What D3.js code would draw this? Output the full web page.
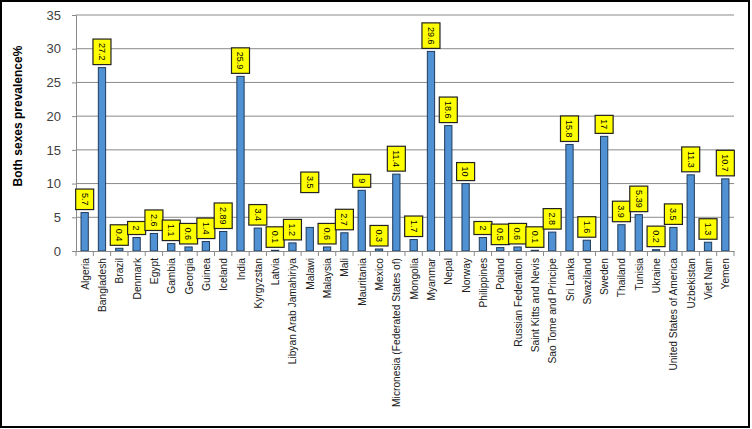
<!DOCTYPE html>
<html><head><meta charset="utf-8">
<script src="https://cdn.jsdelivr.net/npm/d3@7"></script>
<style>body{margin:0;background:#fff}svg{display:block}</style>
</head><body><svg id="c" width="752" height="429"></svg>
<script>
const categories = ["Algeria","Bangladesh","Brazil","Denmark","Egypt","Gambia","Georgia","Guinea","Iceland","India","Kyrgyzstan","Latvia","Libyan Arab Jamahiriya","Malawi","Malaysia","Mali","Mauritania","Mexico","Micronesia (Federated States of)","Mongolia","Myanmar","Nepal","Norway","Philippines","Poland","Russian Federation","Saint Kitts and Nevis","Sao Tome and Principe","Sri Lanka","Swaziland","Sweden","Thailand","Tunisia","Ukraine","United States of America","Uzbekistan","Viet Nam","Yemen"];
const values = [5.7,27.2,0.4,2,2.6,1.1,0.6,1.4,2.89,25.9,3.4,0.1,1.2,3.5,0.6,2.7,9,0.3,11.4,1.7,29.6,18.6,10,2,0.5,0.6,0.1,2.8,15.8,1.6,17,3.9,5.39,0.2,3.5,11.3,1.3,10.7];
const valueLabels = ["5.7","27.2","0.4","2","2.6","1.1","0.6","1.4","2.89","25.9","3.4","0.1","1.2","3.5","0.6","2.7","9","0.3","11.4","1.7","29.6","18.6","10","2","0.5","0.6","0.1","2.8","15.8","1.6","17","3.9","5.39","0.2","3.5","11.3","1.3","10.7"];
const yTicks = [0,5,10,15,20,25,30,35];
const yTitle = "Both sexes prevalence%";

const svg = d3.select("#c");
const L = 76, R = 734, T = 15, B = 251;
const x = d3.scaleBand().domain(categories).range([L, R]).paddingInner(0.58).paddingOuter(0.29);
const y = d3.scaleLinear().domain([0, 35]).range([B, T]);

// border
svg.append("rect").attr("x",1).attr("y",1).attr("width",748).attr("height",426)
  .attr("fill","none").attr("stroke","#000").attr("stroke-width",2);

// gridlines
svg.append("g").selectAll("line").data(yTicks.filter(d=>d>0)).join("line")
  .attr("x1",L).attr("x2",R).attr("y1",d=>y(d)).attr("y2",d=>y(d))
  .attr("stroke","#8a8a8a").attr("stroke-width",1);

// y axis
const ya = svg.append("g").attr("transform",`translate(${L},0)`)
  .call(d3.axisLeft(y).tickValues(yTicks).tickSize(4).tickPadding(11).tickFormat(d3.format("d")));
ya.select(".domain").attr("stroke","#8a8a8a");
ya.selectAll(".tick line").attr("stroke","#8a8a8a");
ya.selectAll("text").attr("font-family","Liberation Sans, Arial, sans-serif").attr("font-size",13).attr("fill","#404040");

// bars
svg.append("g").selectAll("rect").data(values).join("rect")
  .attr("x",(d,i)=>x(categories[i])).attr("width",x.bandwidth())
  .attr("y",d=>y(d)).attr("height",d=>B-y(d))
  .attr("fill","#4f91d3").attr("stroke","#1f3b5a").attr("stroke-width",1);

// x axis
const xa = svg.append("g").attr("transform",`translate(0,${B})`)
  .call(d3.axisBottom(x).tickSize(0).tickPadding(0));
xa.select(".domain").attr("stroke","#8a8a8a");
xa.selectAll(".tick line").remove();
// tick marks between categories
const bounds = d3.range(categories.length+1).map(i => L + i*(R-L)/categories.length);
svg.append("g").selectAll("line").data(bounds).join("line")
  .attr("x1",d=>d).attr("x2",d=>d).attr("y1",B).attr("y2",B+5).attr("stroke","#8a8a8a");
xa.selectAll(".tick text")
  .attr("font-family","Liberation Sans, Arial, sans-serif").attr("font-size",11.5).attr("fill","#202020")
  .attr("text-anchor","end").attr("dy","0.35em")
  .attr("transform","translate(0,7) rotate(-90) scale(0.89,1)").attr("x",0).attr("y",0);

// y title
svg.append("text").attr("transform","translate(22,116) rotate(-90)")
  .attr("text-anchor","middle").attr("font-family","Liberation Sans, Arial, sans-serif")
  .attr("font-weight","bold").attr("font-size",12).attr("fill","#000").text(yTitle);

// data labels (rotated, yellow boxes)
const lg = svg.append("g");
values.forEach((v,i)=>{
  const cx = x(categories[i]) + x.bandwidth()/2;
  const lbl = valueLabels[i];
  const g = lg.append("g");
  const t = g.append("text").attr("font-family","Liberation Sans, Arial, sans-serif")
    .attr("font-size",9).attr("fill","#000").text(lbl);
  const w = t.node().getComputedTextLength();
  const bh = w + 8, bw = 18;
  // special: Malawi label drawn higher, as in the reference
  const bottom = categories[i] === "Malawi" ? y(10) + 9 : y(v) - 3;
  const top = bottom - bh;
  g.insert("rect","text").attr("x",cx-bw/2).attr("y",top).attr("width",bw).attr("height",bh)
    .attr("fill","#ffff00").attr("stroke","#222").attr("stroke-width",1.2);
  t.attr("text-anchor","middle").attr("dy","0.35em")
    .attr("transform",`translate(${cx},${top+bh/2}) rotate(90)`);
});
</script></body></html>
